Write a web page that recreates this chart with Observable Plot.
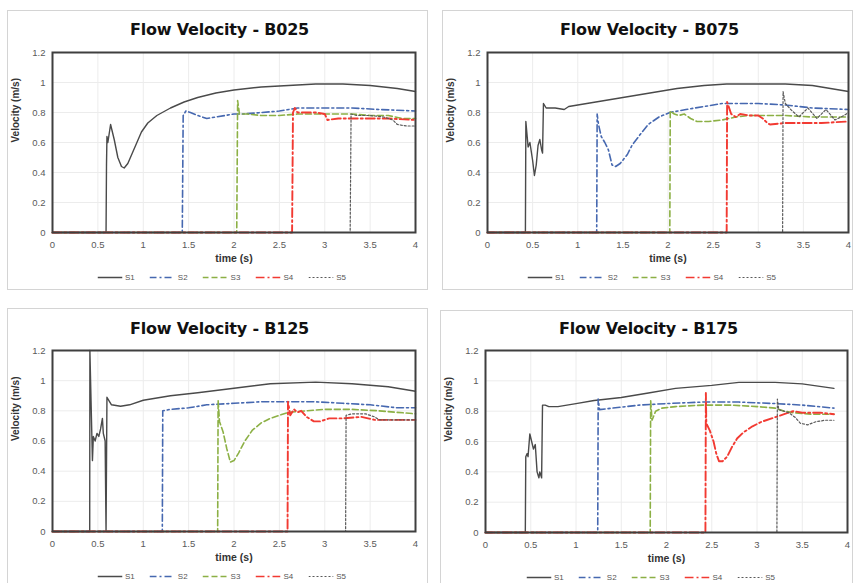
<!DOCTYPE html>
<html>
<head>
<meta charset="utf-8">
<script src="https://cdn.jsdelivr.net/npm/d3@7"></script>
<script src="https://cdn.jsdelivr.net/npm/@observablehq/plot@0.6"></script>
<style>
  html, body { margin: 0; padding: 0; background: #fff; }
  #root { position: relative; width: 855px; height: 583px; overflow: hidden; font-family: "Liberation Sans", Arial, sans-serif; }
  .box { position: absolute; border: 1px solid #d4d4d4; box-sizing: border-box; background: #fff; }
  .title { position: absolute; font-family: "DejaVu Sans", sans-serif; font-weight: bold; font-size: 16px; letter-spacing: -0.2px; color: #111; white-space: nowrap; transform: translate(-50%, -50%); }
  .chart { position: absolute; }
  .legend { position: absolute; display: flex; align-items: center; gap: 15px; font-size: 8px; color: #555; white-space: nowrap; transform: translate(-50%, -50%); }
  .legend span { display: inline-flex; align-items: center; gap: 3px; }
</style>
</head>
<body>
<div id="root"></div>
<script>
// ---------- data ----------
const seriesNames = ["S1", "S2", "S3", "S4", "S5"];
const titles = ["Flow Velocity - B025", "Flow Velocity - B075", "Flow Velocity - B125", "Flow Velocity - B175"];
const xTicks = [0, 0.5, 1, 1.5, 2, 2.5, 3, 3.5, 4];
const xTickLabels = ["0", "0.5", "1", "1.5", "2", "2.5", "3", "3.5", "4"];
const yTicks = [0, 0.2, 0.4, 0.6, 0.8, 1, 1.2];
const yTickLabels = ["0", "0.2", "0.4", "0.6", "0.8", "1", "1.2"];
const xLabel = "time (s)";
const yLabel = "Velocity (m/s)";

// B025
const B025_S1 = [[0,0],[0.59,0],[0.595,0.45],[0.6,0.64],[0.61,0.6],[0.64,0.72],[0.68,0.62],[0.72,0.5],[0.76,0.44],[0.79,0.43],[0.83,0.46],[0.88,0.53],[0.93,0.6],[0.98,0.67],[1.05,0.73],[1.15,0.78],[1.3,0.83],[1.45,0.87],[1.6,0.9],[1.8,0.93],[2.0,0.95],[2.3,0.97],[2.6,0.98],[2.9,0.99],[3.2,0.99],[3.5,0.98],[3.8,0.96],[4.0,0.94]];
const B025_S2 = [[0,0],[1.43,0],[1.44,0.78],[1.47,0.81],[1.52,0.8],[1.6,0.78],[1.7,0.76],[1.8,0.77],[1.9,0.78],[2.0,0.79],[2.1,0.79],[2.3,0.8],[2.5,0.81],[2.7,0.83],[3.0,0.83],[3.3,0.83],[3.6,0.82],[4.0,0.81]];
const B025_S3 = [[0,0],[2.03,0],[2.04,0.88],[2.06,0.79],[2.15,0.79],[2.3,0.78],[2.5,0.78],[2.7,0.79],[3.0,0.79],[3.3,0.79],[3.5,0.78],[3.7,0.78],[3.85,0.76],[4.0,0.76]];
const B025_S4 = [[0,0],[2.64,0],[2.65,0.8],[2.67,0.83],[2.7,0.8],[2.8,0.8],[2.9,0.8],[3.0,0.79],[3.03,0.75],[3.15,0.76],[3.3,0.76],[3.5,0.76],[3.7,0.76],[4.0,0.75]];
const B025_S5 = [[0,0],[3.28,0],[3.29,0.79],[3.35,0.78],[3.5,0.78],[3.65,0.77],[3.75,0.75],[3.8,0.72],[3.9,0.71],[4.0,0.71]];

// B075
const B075_S1 = [[0,0],[0.42,0],[0.425,0.74],[0.45,0.57],[0.47,0.6],[0.5,0.48],[0.52,0.38],[0.54,0.45],[0.56,0.58],[0.58,0.62],[0.6,0.55],[0.61,0.53],[0.62,0.86],[0.65,0.83],[0.75,0.83],[0.85,0.82],[0.9,0.84],[1.2,0.87],[1.5,0.9],[1.8,0.93],[2.1,0.96],[2.4,0.98],[2.65,0.99],[3.0,0.99],[3.3,0.99],[3.6,0.98],[3.8,0.96],[4.0,0.94]];
const B075_S2 = [[0,0],[1.21,0],[1.215,0.79],[1.23,0.72],[1.26,0.64],[1.3,0.6],[1.34,0.55],[1.38,0.45],[1.42,0.44],[1.47,0.46],[1.55,0.52],[1.6,0.58],[1.7,0.66],[1.78,0.72],[1.9,0.77],[2.02,0.8],[2.2,0.82],[2.4,0.84],[2.6,0.86],[3.0,0.86],[3.3,0.85],[3.6,0.83],[4.0,0.82]];
const B075_S3 = [[0,0],[2.02,0],[2.025,0.81],[2.07,0.79],[2.12,0.78],[2.18,0.79],[2.25,0.76],[2.32,0.74],[2.45,0.74],[2.6,0.75],[2.75,0.77],[2.9,0.78],[3.1,0.78],[3.3,0.78],[3.6,0.77],[3.8,0.77],[4.0,0.77]];
const B075_S4 = [[0,0],[2.65,0],[2.655,0.87],[2.7,0.79],[2.75,0.77],[2.8,0.79],[2.9,0.78],[3.0,0.78],[3.05,0.76],[3.1,0.73],[3.13,0.72],[3.3,0.73],[3.5,0.73],[3.7,0.73],[4.0,0.74]];
const B075_S5 = [[0,0],[3.27,0],[3.275,0.94],[3.3,0.86],[3.36,0.82],[3.45,0.77],[3.55,0.83],[3.65,0.76],[3.75,0.82],[3.85,0.75],[3.95,0.78],[4.0,0.8]];

// B125
const B125_S1 = [[0,0],[0.41,0],[0.412,1.2],[0.44,0.47],[0.45,0.63],[0.47,0.6],[0.49,0.65],[0.51,0.63],[0.53,0.68],[0.55,0.75],[0.56,0.65],[0.58,0.6],[0.59,0],[0.6,0.89],[0.62,0.87],[0.65,0.84],[0.75,0.83],[0.85,0.84],[1.0,0.87],[1.3,0.9],[1.6,0.92],[2.0,0.95],[2.4,0.98],[2.9,0.99],[3.3,0.98],[3.7,0.96],[4.0,0.93]];
const B125_S2 = [[0,0],[1.21,0],[1.215,0.8],[1.3,0.81],[1.5,0.82],[1.7,0.84],[2.0,0.85],[2.3,0.86],[2.6,0.86],[2.9,0.86],[3.2,0.85],[3.5,0.84],[3.8,0.82],[4.0,0.82]];
const B125_S3 = [[0,0],[1.82,0],[1.825,0.87],[1.84,0.73],[1.88,0.66],[1.92,0.55],[1.96,0.46],[2.0,0.47],[2.05,0.52],[2.12,0.6],[2.2,0.67],[2.3,0.72],[2.4,0.75],[2.5,0.77],[2.6,0.79],[2.8,0.8],[3.0,0.81],[3.3,0.81],[3.6,0.8],[4.0,0.78]];
const B125_S4 = [[0,0],[2.59,0],[2.595,0.86],[2.62,0.77],[2.66,0.81],[2.7,0.79],[2.74,0.8],[2.8,0.76],[2.88,0.73],[2.95,0.73],[3.05,0.75],[3.2,0.75],[3.4,0.76],[3.55,0.74],[3.7,0.74],[4.0,0.74]];
const B125_S5 = [[0,0],[3.23,0],[3.235,0.77],[3.3,0.78],[3.45,0.78],[3.55,0.76],[3.6,0.74],[3.8,0.74],[4.0,0.74]];

// B175
const B175_S1 = [[0,0],[0.44,0],[0.445,0.5],[0.46,0.52],[0.47,0.5],[0.49,0.65],[0.51,0.6],[0.53,0.55],[0.55,0.58],[0.57,0.4],[0.59,0.36],[0.6,0.4],[0.62,0.36],[0.63,0.84],[0.66,0.84],[0.7,0.83],[0.8,0.83],[1.0,0.85],[1.2,0.87],[1.5,0.89],[1.8,0.92],[2.1,0.95],[2.5,0.97],[2.8,0.99],[3.2,0.99],[3.5,0.98],[3.85,0.95]];
const B175_S2 = [[0,0],[1.24,0],[1.245,0.88],[1.26,0.81],[1.4,0.82],[1.7,0.84],[2.0,0.85],[2.4,0.86],[2.8,0.86],[3.2,0.85],[3.5,0.84],[3.85,0.82]];
const B175_S3 = [[0,0],[1.82,0],[1.825,0.87],[1.84,0.74],[1.88,0.8],[1.95,0.82],[2.1,0.83],[2.4,0.84],[2.7,0.84],[3.0,0.83],[3.2,0.82],[3.3,0.8],[3.4,0.79],[3.6,0.78],[3.85,0.78]];
const B175_S4 = [[0,0],[2.43,0],[2.435,0.92],[2.44,0.72],[2.48,0.67],[2.52,0.6],[2.55,0.52],[2.58,0.47],[2.62,0.47],[2.67,0.5],[2.72,0.56],[2.78,0.62],[2.85,0.66],[2.95,0.7],[3.05,0.73],[3.2,0.76],[3.3,0.78],[3.4,0.8],[3.5,0.79],[3.7,0.79],[3.85,0.78]];
const B175_S5 = [[0,0],[3.22,0],[3.225,0.88],[3.24,0.81],[3.35,0.79],[3.42,0.76],[3.48,0.72],[3.56,0.71],[3.65,0.73],[3.75,0.74],[3.85,0.74]];

// ---------- styles / layout ----------
const seriesStyles = [
  {stroke: "#4a4a4a", strokeWidth: 1.4, dash: null},
  {stroke: "#4668b0", strokeWidth: 1.6, dash: "7,3,2,3"},
  {stroke: "#8cb045", strokeWidth: 1.6, dash: "6,3"},
  {stroke: "#f23a32", strokeWidth: 1.9, dash: "9,3,2,3"},
  {stroke: "#5a5a5a", strokeWidth: 1.2, dash: "2,2"}
];
const layouts = [
  {box: {left: 7, top: 10, width: 421, height: 280}, frame: {left: 52, right: 415, top: 52, bottom: 232}, titleY: 29},
  {box: {left: 442, top: 10, width: 411, height: 280}, frame: {left: 487, right: 848, top: 52, bottom: 232}, titleY: 29},
  {box: {left: 7, top: 308, width: 421, height: 290}, frame: {left: 52, right: 415, top: 350, bottom: 531}, titleY: 328},
  {box: {left: 440, top: 310, width: 413, height: 290}, frame: {left: 485, right: 847, top: 350, bottom: 532}, titleY: 328}
];
const panelSeries = [
  [B025_S1, B025_S2, B025_S3, B025_S4, B025_S5],
  [B075_S1, B075_S2, B075_S3, B075_S4, B075_S5],
  [B125_S1, B125_S2, B125_S3, B125_S4, B125_S5],
  [B175_S1, B175_S2, B175_S3, B175_S4, B175_S5]
];

const xFmt = new Map(xTicks.map((t, i) => [t, xTickLabels[i]]));
const yFmt = new Map(yTicks.map((t, i) => [t, yTickLabels[i]]));
const root = document.getElementById("root");

function legendSample(st) {
  const ns = "http://www.w3.org/2000/svg";
  const svg = document.createElementNS(ns, "svg");
  svg.setAttribute("width", 25); svg.setAttribute("height", 6);
  const l = document.createElementNS(ns, "line");
  l.setAttribute("x1", 0); l.setAttribute("x2", 25); l.setAttribute("y1", 3); l.setAttribute("y2", 3);
  l.setAttribute("stroke", st.stroke); l.setAttribute("stroke-width", Math.min(st.strokeWidth, 1.6));
  if (st.dash) l.setAttribute("stroke-dasharray", st.dash);
  svg.appendChild(l);
  return svg;
}

layouts.forEach((L, p) => {
  const box = document.createElement("div");
  box.className = "box";
  Object.assign(box.style, {left: L.box.left + "px", top: L.box.top + "px", width: L.box.width + "px", height: L.box.height + "px"});
  root.appendChild(box);

  const title = document.createElement("div");
  title.className = "title";
  title.textContent = titles[p];
  title.style.left = (L.box.left + L.box.width / 2 + 2) + "px";
  title.style.top = L.titleY + "px";
  root.appendChild(title);

  const mt = 12, mb = 46;
  const lines = panelSeries[p].map((data, s) => Plot.line(data, {
    x: d => d[0], y: d => d[1],
    stroke: seriesStyles[s].stroke, strokeWidth: seriesStyles[s].strokeWidth,
    strokeDasharray: seriesStyles[s].dash || undefined
  }));

  const chart = Plot.plot({
    width: L.box.width,
    height: L.frame.bottom - L.frame.top + mt + mb,
    marginLeft: L.frame.left - L.box.left,
    marginRight: L.box.left + L.box.width - L.frame.right,
    marginTop: mt, marginBottom: mb,
    style: {fontFamily: "'Liberation Sans', Arial, sans-serif", fontSize: "9.5px", color: "#5a5a5a", background: "transparent", overflow: "visible"},
    x: {domain: [0, 4]},
    y: {domain: [0, 1.2]},
    marks: [
      Plot.gridX(xTicks, {stroke: "#ececec", strokeOpacity: 1}),
      Plot.gridY(yTicks, {stroke: "#ececec", strokeOpacity: 1}),
      Plot.axisX(xTicks, {tickSize: 0, tickPadding: 9, tickFormat: d => xFmt.get(d), label: null}),
      Plot.axisY(yTicks, {tickSize: 0, tickPadding: 7, tickFormat: d => yFmt.get(d), label: null}),
      ...lines,
      Plot.frame({stroke: "#3f3f3f", strokeWidth: 2}),
      Plot.text([xLabel], {frameAnchor: "bottom", dy: 29, fontWeight: "bold", fontSize: 10.5, fill: "#333"}),
      Plot.text([yLabel], {frameAnchor: "left", dx: -37, rotate: -90, fontWeight: "bold", fontSize: 10, fill: "#333"})
    ]
  });
  chart.classList.add("chart");
  chart.style.left = L.box.left + "px";
  chart.style.top = (L.frame.top - mt) + "px";
  root.appendChild(chart);

  const legend = document.createElement("div");
  legend.className = "legend";
  seriesNames.forEach((n, s) => {
    const item = document.createElement("span");
    item.appendChild(legendSample(seriesStyles[s]));
    const t = document.createElement("span");
    t.textContent = n;
    item.appendChild(t);
    legend.appendChild(item);
  });
  legend.style.left = (L.box.left + L.box.width / 2 + 4) + "px";
  legend.style.top = (L.frame.bottom + 45) + "px";
  root.appendChild(legend);
});
</script>
</body>
</html>
